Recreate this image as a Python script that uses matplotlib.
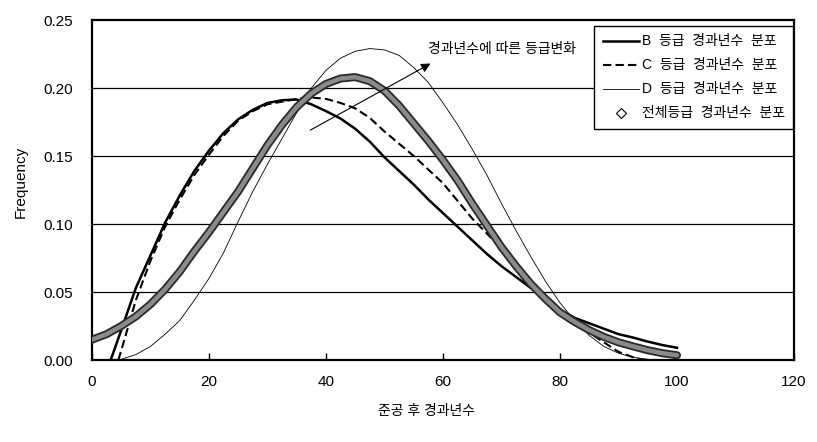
import numpy as np
import matplotlib
matplotlib.use("Agg")
import matplotlib.pyplot as plt
import matplotlib.patheffects as pe
from matplotlib.lines import Line2D

plt.rcParams['font.family'] = ['Liberation Sans', 'Noto Sans CJK KR', 'DejaVu Sans']

# B grade distribution
b_x = [3.2, 5, 7.5, 10, 12.5, 15, 17.5, 20, 22.5, 25, 27.5, 30, 32.5, 35, 37.5, 40,
       42.5, 45, 47.5, 50, 52.5, 55, 57.5, 60, 62.5, 65, 67.5, 70, 72.5, 75, 77.5, 80,
       82.5, 85, 87.5, 90, 92.5, 95, 97.5, 100]
b_y = [0.000, 0.022, 0.053, 0.077, 0.101, 0.121, 0.139, 0.154, 0.167, 0.177, 0.184, 0.189,
       0.191, 0.1915, 0.188, 0.183, 0.1775, 0.170, 0.1605, 0.149, 0.139, 0.129, 0.118, 0.108,
       0.098, 0.088, 0.078, 0.069, 0.061, 0.053, 0.045, 0.037, 0.031, 0.027, 0.023, 0.019,
       0.0165, 0.0135, 0.011, 0.009]

# C grade distribution
c_x = [4.5, 5, 7.5, 10, 12.5, 15, 17.5, 20, 22.5, 25, 27.5, 30, 32.5, 35, 37.5, 40,
       42.5, 45, 47.5, 50, 52.5, 55, 57.5, 60, 62.5, 65, 67.5, 70, 72.5, 75, 77.5, 80,
       82.5, 85, 87.5, 90, 92.5, 94]
c_y = [0.000, 0.007, 0.044, 0.073, 0.098, 0.118, 0.136, 0.151, 0.165, 0.176, 0.183, 0.188,
       0.190, 0.192, 0.193, 0.192, 0.189, 0.185, 0.178, 0.168, 0.159, 0.150, 0.140, 0.130,
       0.117, 0.104, 0.093, 0.082, 0.070, 0.057, 0.046, 0.036, 0.028, 0.020, 0.013, 0.006,
       0.002, 0.000]

# D grade distribution
d_x = [4.6, 7.5, 10, 12.5, 15, 17.5, 20, 22.5, 25, 27.5, 30, 32.5, 35, 37.5, 40,
       42.5, 45, 47.5, 50, 52.5, 55, 57.5, 60, 62.5, 65, 67.5, 70, 72.5, 75, 77.5, 80,
       82.5, 85, 87.5, 90, 92.5, 95, 97]
d_y = [0.000, 0.004, 0.010, 0.019, 0.029, 0.044, 0.060, 0.079, 0.102, 0.124, 0.144, 0.163,
       0.182, 0.200, 0.213, 0.222, 0.227, 0.229, 0.228, 0.224, 0.215, 0.204, 0.189, 0.173,
       0.155, 0.136, 0.115, 0.095, 0.076, 0.058, 0.042, 0.029, 0.018, 0.010, 0.005, 0.002,
       0.0005, 0.000]

# all grades
all_x = [0, 2.5, 5, 7.5, 10, 12.5, 15, 17.5, 20, 22.5, 25, 27.5, 30, 32.5, 35, 37.5, 40,
         42.5, 45, 47.5, 50, 52.5, 55, 57.5, 60, 62.5, 65, 67.5, 70, 72.5, 75, 77.5, 80,
         82.5, 85, 87.5, 90, 92.5, 95, 97.5, 100]
all_y = [0.015, 0.019, 0.025, 0.032, 0.041, 0.052, 0.065, 0.080, 0.094, 0.109, 0.124, 0.141,
         0.158, 0.173, 0.186, 0.196, 0.203, 0.207, 0.208, 0.205, 0.198, 0.187, 0.174, 0.161,
         0.147, 0.132, 0.115, 0.099, 0.083, 0.069, 0.056, 0.045, 0.035, 0.028, 0.022, 0.017,
         0.013, 0.010, 0.0072, 0.0050, 0.0035]

labels = ['B  등급  경과년수  분포', 'C  등급  경과년수  분포', 'D  등급  경과년수  분포', '전체등급  경과년수  분포']
x_ticks = [0, 20, 40, 60, 80, 100, 120]
y_ticks = [0.00, 0.05, 0.10, 0.15, 0.20, 0.25]

fig = plt.figure(figsize=(8.17, 4.42), dpi=100)
ax = fig.add_axes([92/817, 82/442, 702/817, 340/442])

for yv in y_ticks[1:-1]:
    ax.axhline(yv, color='black', lw=0.9, zorder=1)

ax.plot(b_x, b_y, color='black', lw=1.8, zorder=3)
ax.plot(c_x, c_y, color='black', lw=1.5, ls=(0, (4, 2)), zorder=3)
ax.plot(d_x, d_y, color='black', lw=0.6, zorder=3)
ax.plot(all_x, all_y, color='#8a8a8a', lw=3.2, zorder=4, solid_capstyle='round',
        path_effects=[pe.Stroke(linewidth=5.8, foreground='#2a2a2a'), pe.Normal()])

ax.annotate('', xy=(58.3, 0.219), xytext=(36.9, 0.168),
            arrowprops=dict(arrowstyle='-|>', color='black', lw=0.8, mutation_scale=14), zorder=5)
ax.text(57.4, 0.229, '경과년수에 따른 등급변화', fontsize=10, va='center', ha='left', zorder=5)

ax.set_xlim(0, 120)
ax.set_ylim(0, 0.25)
ax.set_xticks(x_ticks)
ax.set_yticks(y_ticks)
ax.set_yticklabels(['%.2f' % v for v in y_ticks])
ax.tick_params(axis='x', direction='in', length=5, width=1, pad=11, labelsize=11)
ax.tick_params(axis='y', length=0, pad=14, labelsize=11)
for s in ax.spines.values():
    s.set_linewidth(1.6)

ax.set_xlabel('준공 후 경과년수', fontsize=10)
ax.xaxis.set_label_coords((427-92)/702, -(404-360)/340)
ax.set_ylabel('Frequency', fontsize=11)
ax.yaxis.set_label_coords(-(92-28)/702, (360-182)/340)

handles = [Line2D([], [], color='black', lw=1.8),
           Line2D([], [], color='black', lw=1.5, ls=(0, (4, 2))),
           Line2D([], [], color='black', lw=0.6),
           Line2D([], [], ls='none', marker='D', markersize=5, markerfacecolor='white',
                  markeredgecolor='black', markeredgewidth=0.8)]
leg = ax.legend(handles, labels, loc='upper right', bbox_to_anchor=(0.9986, 0.982),
                frameon=True, fancybox=False, edgecolor='black', framealpha=1,
                fontsize=10, handlelength=2.6, handletextpad=0.2, labelspacing=0.72,
                borderpad=0.6, borderaxespad=0)
leg.get_frame().set_linewidth(1.0)
leg.set_zorder(6)

fig.savefig('out.png', dpi=100)
